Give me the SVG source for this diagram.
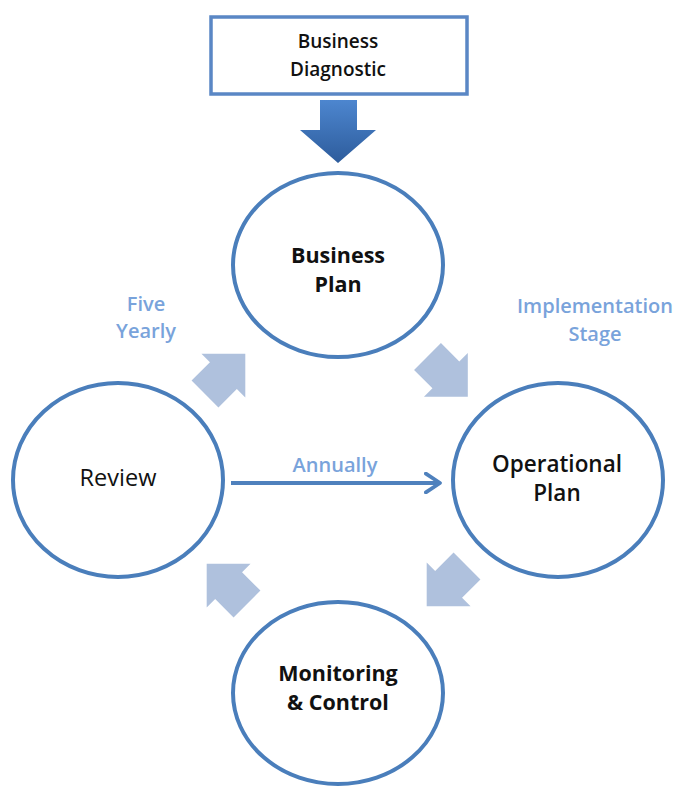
<svg xmlns="http://www.w3.org/2000/svg" width="675" height="788" viewBox="0 0 675 788">
  <defs>
    <linearGradient id="gDown" x1="0" y1="0" x2="0" y2="1">
      <stop offset="0" stop-color="#4D86CF"/>
      <stop offset="1" stop-color="#2D5C9C"/>
    </linearGradient>
    <polygon id="blk" points="0,-19 26,-19 26,-31 57,0 26,31 26,19 0,19"/>
    <marker id="chev" viewBox="0 0 12 14" refX="10" refY="7" markerWidth="5" markerHeight="5.5" orient="auto" markerUnits="strokeWidth">
      <polyline points="1,1 10,7 1,13" fill="none" stroke="#4F81BD" stroke-width="2.4" stroke-linecap="round" stroke-linejoin="round"/>
    </marker>
  </defs>
  <style>
    .node { fill: #ffffff; stroke: #4A7EBB; stroke-width: 4; }
    .nt { font-family: "Open Sans", "Liberation Sans", sans-serif; fill: #111111; text-anchor: middle; }
    .b { font-weight: 700; font-size: 21.5px; }
    .lbl { font-family: "Open Sans", "Liberation Sans", sans-serif; font-size: 20px; font-weight: 600; fill: #79A3DB; text-anchor: middle; }
    .blk { fill: #AFC1DD; }
  </style>
  <rect width="675" height="788" fill="#ffffff"/>

  <g id="diagnostic">
    <rect x="211" y="17" width="256" height="77" fill="#ffffff" stroke="#5A87C5" stroke-width="3.5"/>
    <text class="nt" x="338" y="48" font-size="19" font-weight="600" fill="#222222">Business</text>
    <text class="nt" x="338" y="76" font-size="19" font-weight="600" fill="#222222">Diagnostic</text>
  </g>

  <g id="business-plan">
    <ellipse class="node" cx="338" cy="265" rx="105" ry="92"/>
    <text class="nt b" x="338" y="263">Business</text>
    <text class="nt b" x="338" y="292">Plan</text>
  </g>

  <g id="review">
    <ellipse class="node" cx="118" cy="480" rx="105" ry="97"/>
    <text class="nt" x="118" y="486" font-size="23.5">Review</text>
  </g>

  <g id="operational-plan">
    <ellipse class="node" cx="558" cy="480" rx="105" ry="97"/>
    <text class="nt" x="557" y="472" font-size="22.5" font-weight="600">Operational</text>
    <text class="nt" x="557" y="501" font-size="22.5" font-weight="600">Plan</text>
  </g>

  <g id="monitoring">
    <ellipse class="node" cx="338" cy="693" rx="105" ry="91"/>
    <text class="nt b" x="338" y="681" font-size="23">Monitoring</text>
    <text class="nt b" x="338" y="710" font-size="23">&amp; Control</text>
  </g>

  <g id="connectors">
    <polygon points="320,100 357,100 357,130 376,130 338,163 300,130 320,130" fill="url(#gDown)"/>
    <use href="#blk" class="blk" transform="translate(205,394) rotate(-45)"/>
    <use href="#blk" class="blk" transform="translate(427.5,356.5) rotate(45)"/>
    <use href="#blk" class="blk" transform="translate(467,566) rotate(135)"/>
    <use href="#blk" class="blk" transform="translate(247,604) rotate(225)"/>
    <line x1="231" y1="483" x2="440" y2="483" stroke="#4F81BD" stroke-width="4" marker-end="url(#chev)"/>
    <text class="lbl" x="146" y="311">Five</text>
    <text class="lbl" x="146" y="338">Yearly</text>
    <text class="lbl" x="595" y="313">Implementation</text>
    <text class="lbl" x="595" y="341">Stage</text>
    <text class="lbl" x="335" y="472">Annually</text>
  </g>
</svg>
